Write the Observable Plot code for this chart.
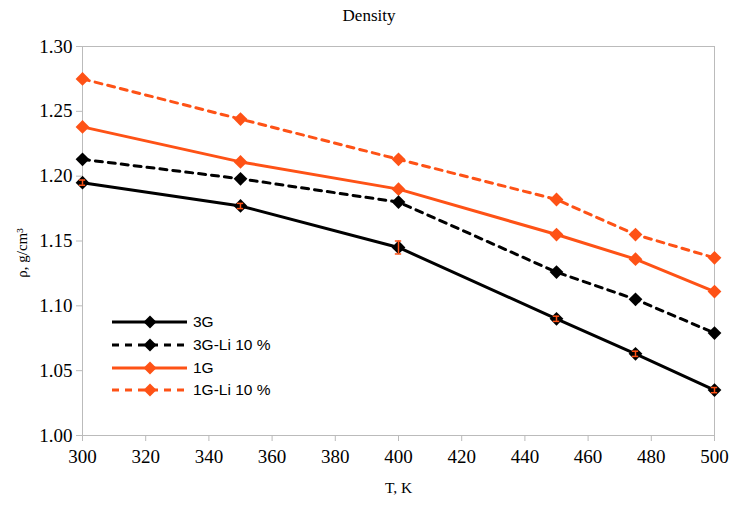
<!DOCTYPE html>
<html>
<head>
<meta charset="utf-8">
<script src="https://cdn.jsdelivr.net/npm/d3@7"></script>
<script src="https://cdn.jsdelivr.net/npm/@observablehq/plot@0.6"></script>
<style>
  body { margin: 0; background: #fff; position: relative; width: 747px; height: 510px; overflow: hidden; }
  #title { position: absolute; left: 369px; top: 0; height: 32px; line-height: 32px; transform: translateX(-50%); white-space: nowrap; font-family: "Liberation Serif", "Times New Roman", serif; font-size: 17px; }
  #chart { position: absolute; left: 0; top: 30px; }
  #chart svg text { font-family: "Liberation Serif", "Times New Roman", serif !important; font-variant-numeric: normal !important; }
  #legend { position: absolute; left: 110px; top: 311px; font-family: "Liberation Sans", Arial, sans-serif; font-size: 15.5px; }
  .row { display: flex; align-items: center; height: 22.7px; }
  .row svg { margin-right: 3px; }
</style>
</head>
<body>
<div id="title">Density</div>
<div id="chart"></div>
<div id="legend"></div>
<script>
const temps = [300, 350, 400, 450, 475, 500];
const seriesNames = ["3G", "3G-Li 10 %", "1G", "1G-Li 10 %"];
const v3G   = [1.195, 1.177, 1.145, 1.090, 1.063, 1.035];
const v3GLi = [1.213, 1.198, 1.180, 1.126, 1.105, 1.079];
const v1G   = [1.238, 1.211, 1.190, 1.155, 1.136, 1.111];
const v1GLi = [1.275, 1.244, 1.213, 1.182, 1.155, 1.137];
const err3G = [0.002, 0.002, 0.005, 0.002, 0.002, 0.002];
const xTicks = [300, 320, 340, 360, 380, 400, 420, 440, 460, 480, 500];
const yTicks = [1.00, 1.05, 1.10, 1.15, 1.20, 1.25, 1.30];

const orange = "#fe5216";
const serif = "Liberation Serif";
const styles = {
  "3G":         {color: "#000", dash: null},
  "3G-Li 10 %": {color: "#000", dash: "7,6"},
  "1G":         {color: orange, dash: null},
  "1G-Li 10 %": {color: orange, dash: "7,6"}
};
const values = [v3G, v3GLi, v1G, v1GLi];
const data = [];
seriesNames.forEach((s, i) => temps.forEach((t, j) => data.push({series: s, T: t, rho: values[i][j]})));
const errs = temps.map((t, j) => ({T: t, rho: v3G[j], e: err3G[j]}));

const marks = [
  Plot.frame({stroke: "#bbb"})
];
["1G-Li 10 %", "1G", "3G-Li 10 %", "3G"].forEach(s => {
  const d = data.filter(r => r.series === s);
  marks.push(Plot.line(d, {x: "T", y: "rho", stroke: styles[s].color, strokeWidth: 3, strokeDasharray: styles[s].dash}));
  marks.push(Plot.dot(d, {x: "T", y: "rho", symbol: "diamond2", r: 6.2, fill: styles[s].color, stroke: "none"}));
});
marks.push(Plot.ruleX(errs, {x: "T", y1: d => d.rho - d.e, y2: d => d.rho + d.e, stroke: orange, strokeWidth: 1.5}));
marks.push(Plot.ruleY(errs, {y: d => d.rho - d.e, x1: d => d.T - 1, x2: d => d.T + 1, stroke: orange, strokeWidth: 1.5}));
marks.push(Plot.ruleY(errs, {y: d => d.rho + d.e, x1: d => d.T - 1, x2: d => d.T + 1, stroke: orange, strokeWidth: 1.5}));
marks.push(Plot.axisX({ticks: xTicks, tickSize: 6, tickPadding: 8, stroke: "#bbb", fontSize: 19, fontFamily: serif, label: null, tickFormat: d3.format("d")}));
marks.push(Plot.axisY({ticks: yTicks, tickSize: 6, tickPadding: 4, stroke: "#bbb", fontSize: 19, fontFamily: serif, label: null, tickFormat: d3.format(".2f")}));
marks.push(Plot.text(["ρ, g/cm³"], {frameAnchor: "left", textAnchor: "middle", dx: -60, dy: 12, rotate: -90, fontSize: 15, fontFamily: serif, fill: "#000"}));
marks.push(Plot.text(["T, K"], {frameAnchor: "bottom", textAnchor: "middle", dy: 57, fontSize: 15.5, fontFamily: serif, fill: "#000"}));

const chart = Plot.plot({
  width: 747,
  height: 480,
  marginLeft: 82,
  marginRight: 33,
  marginTop: 16,
  marginBottom: 75,
  style: {fontFamily: "'Liberation Serif', serif", fontSize: "19px", color: "#000", background: "#fff"},
  x: {domain: [300, 500]},
  y: {domain: [1.00, 1.30]},
  marks
});
document.getElementById("chart").appendChild(chart);

const legend = document.getElementById("legend");
seriesNames.forEach(s => {
  const row = document.createElement("div");
  row.className = "row";
  const st = styles[s];
  row.innerHTML = `<svg width="80" height="14"><line x1="2" x2="77" y1="7" y2="7" stroke="${st.color}" stroke-width="3" ${st.dash ? `stroke-dasharray="${st.dash}"` : ""}/><path d="M40,0.5 L46.5,7 L40,13.5 L33.5,7 Z" fill="${st.color}"/></svg><span>${s}</span>`;
  legend.appendChild(row);
});
</script>
</body>
</html>
